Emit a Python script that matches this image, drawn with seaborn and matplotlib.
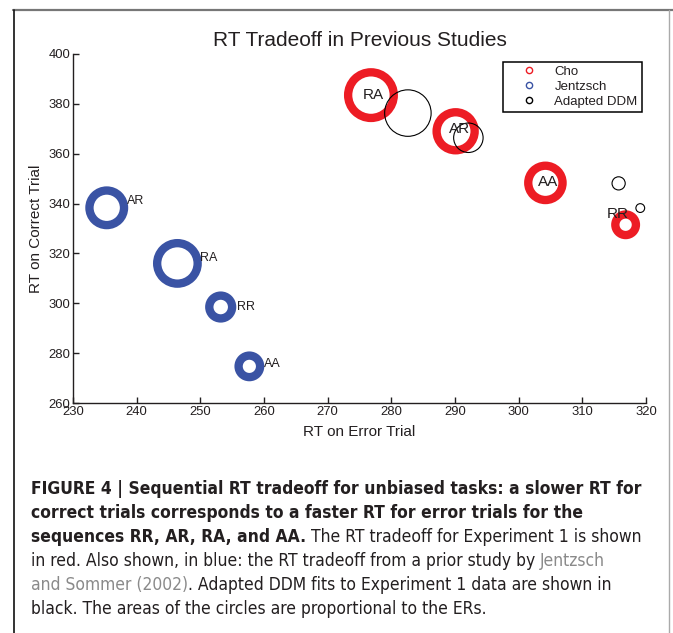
import os
import numpy as np
import pandas as pd
import matplotlib
matplotlib.use("Agg")
import matplotlib.pyplot as plt
from matplotlib.lines import Line2D
from matplotlib import font_manager as fm
import seaborn as sns

# ---------------- data ----------------
conditions = ["RR", "AR", "RA", "AA"]

cho_error_rt = [316.8, 290.1, 276.8, 304.2]
cho_correct_rt = [331.5, 369.0, 383.5, 348.3]
cho_er = [2.2, 7.5, 10.8, 6.1]

jen_error_rt = [253.2, 235.3, 246.4, 257.7]
jen_correct_rt = [298.5, 338.3, 316.0, 274.7]
jen_er = [2.7, 6.2, 8.5, 2.4]

ddm_error_rt = [319.1, 292.1, 282.6, 315.7]
ddm_correct_rt = [338.2, 366.4, 376.3, 348.1]
ddm_er = [0.4, 4.5, 11.2, 0.9]

series_names = ["Cho", "Jentzsch", "Adapted DDM"]
x_ticks = list(range(230, 321, 10))
y_ticks = list(range(260, 401, 20))
title_text = "RT Tradeoff in Previous Studies"
x_label = "RT on Error Trial"
y_label = "RT on Correct Trial"

caption_lines = [
    [("FIGURE 4 | Sequential RT tradeoff for unbiased tasks: a slower RT for", "bold", "main")],
    [("correct trials corresponds to a faster RT for error trials for the", "bold", "main")],
    [("sequences RR, AR, RA, and AA.", "bold", "main"),
     ("The RT tradeoff for Experiment 1 is shown", "normal", "main")],
    [("in red. Also shown, in blue: the RT tradeoff from a prior study by", "normal", "main"),
     ("Jentzsch", "normal", "link")],
    [("and Sommer (2002)", "normal", "link"),
     (". Adapted DDM fits to Experiment 1 data are shown in", "normal", "nospace")],
    [("black. The areas of the circles are proportional to the ERs.", "normal", "main")],
]

# ---------------- style ----------------
W, H = 673, 633
AREA_PER_ER = 100.0            # marker area (pt^2) per percent error
RED = "#ED1C24"
BLUE = "#3A53A4"
INK = "#231F20"
LINK = "#8A8A8A"
cho_label_off = {"RR": (-6, 7.7), "AR": (2.7, 1.5), "RA": (1.8, 0), "AA": (2.0, 0.4)}
jen_label_off = {"RR": (11.5, 0), "AR": (14.4, 4.8), "RA": (16.3, 4.0), "AA": (10.8, 1.4)}

sns.set_theme(style="ticks", rc={
    "xtick.direction": "in", "ytick.direction": "in",
    "axes.edgecolor": INK, "axes.linewidth": 1.0,
    "xtick.color": INK, "ytick.color": INK,
    "text.color": INK, "axes.labelcolor": INK,
})
plt.rcParams["font.family"] = ["Liberation Sans", "DejaVu Sans"]

fig = plt.figure(figsize=(W / 100, H / 100), dpi=100)
fig.patch.set_facecolor("white")

def px_box(x0, y0, x1, y1):
    return [x0 / W, 1 - y1 / H, (x1 - x0) / W, (y1 - y0) / H]

ax = fig.add_axes(px_box(73, 54, 646, 403))

def draw_series(err, cor, er, color, lw, z):
    df = pd.DataFrame({"err": err, "cor": cor, "er": er, "cond": conditions})
    sns.scatterplot(data=df, x="err", y="cor", size="er",
                    sizes={v: v * AREA_PER_ER for v in er},
                    facecolors="none", edgecolor=color, linewidth=lw,
                    legend=False, ax=ax, zorder=z, clip_on=False)
    return df

cho_df = draw_series(cho_error_rt, cho_correct_rt, cho_er, RED, 6.0, 3)
jen_df = draw_series(jen_error_rt, jen_correct_rt, jen_er, BLUE, 6.0, 3)
ddm_df = draw_series(ddm_error_rt, ddm_correct_rt, ddm_er, "black", 0.8, 4)

for _, r in cho_df.iterrows():
    ax.annotate(r["cond"], (r["err"], r["cor"]), xytext=cho_label_off[r["cond"]],
                textcoords="offset points", ha="center", va="center",
                fontsize=11, color=INK, zorder=6)
for _, r in jen_df.iterrows():
    ax.annotate(r["cond"], (r["err"], r["cor"]), xytext=jen_label_off[r["cond"]],
                textcoords="offset points", ha="left", va="center",
                fontsize=9, color=INK, zorder=6)

ax.set_xlim(x_ticks[0], x_ticks[-1])
ax.set_ylim(y_ticks[0], y_ticks[-1])
ax.set_xticks(x_ticks)
ax.set_yticks(y_ticks)
ax.tick_params(axis="both", length=4, width=1.0, labelsize=9.4, pad=2)
sns.despine(ax=ax)
ax.set_xlabel(x_label, fontsize=11, labelpad=5)
ax.set_ylabel(y_label, fontsize=11, labelpad=4)
ax.set_title(title_text, fontsize=15, pad=6, color=INK)

handles = [Line2D([], [], marker="o", ls="none", mfc="none", mec=c, ms=4.5, mew=1.0)
           for c in (RED, BLUE, "black")]
leg = ax.legend(handles, series_names, loc="upper left",
                bbox_to_anchor=(503 / W, 1 - 61.5 / H), bbox_transform=fig.transFigure,
                fontsize=9.5, frameon=True, fancybox=False, framealpha=1,
                edgecolor="black", borderpad=0.3, labelspacing=0.22,
                handlelength=3.3, handletextpad=0.3, borderaxespad=0)
leg.get_frame().set_linewidth(1.1)

# ---------------- frame around figure ----------------
def fline(x0, y0, x1, y1, color, lw):
    fig.add_artist(Line2D([x0 / W, x1 / W], [1 - y0 / H, 1 - y1 / H],
                          transform=fig.transFigure, color=color, lw=lw))

fline(13, 10, 673, 10, "#777777", 1.6)
fline(13.5, 10, 13.5, 633, "#111111", 1.2)
fline(669, 10, 669, 633, "#AAAAAA", 1.0)

# ---------------- caption (condensed font if one is installed) ----------------
def find_font(names):
    by_base = {os.path.basename(f.fname).lower(): f.fname for f in fm.fontManager.ttflist}
    for n in names:
        if n.lower() in by_base:
            return fm.FontProperties(fname=by_base[n.lower()])
    return None

fp_reg = find_font(["LiberationSansNarrow-Regular.ttf", "DejaVuSansCondensed.ttf",
                    "RobotoCondensed-Regular.ttf", "NotoSans-Condensed.ttf"])
fp_bold = find_font(["LiberationSansNarrow-Bold.ttf", "DejaVuSansCondensed-Bold.ttf",
                     "RobotoCondensed-Bold.ttf", "NotoSans-CondensedBold.ttf"])
if fp_reg is None or fp_bold is None:
    fp_reg = fm.FontProperties(family=["Liberation Sans"], weight="normal")
    fp_bold = fm.FontProperties(family=["Liberation Sans"], weight="bold")

renderer = fig.canvas.get_renderer()

def make_fp(weight, size):
    fp = (fp_bold if weight == "bold" else fp_reg).copy()
    fp.set_size(size)
    return fp

probe = fig.text(0, 0, caption_lines[0][0][0], fontproperties=make_fp("bold", 12))
w12 = probe.get_window_extent(renderer).width
probe.remove()
cap_size = min(12 * 609.0 / w12, 13.2)

def text_w(s, weight):
    t = fig.text(0, 0, s, fontproperties=make_fp(weight, cap_size))
    w = t.get_window_extent(renderer).width
    t.remove()
    return w

space_w = text_w("x x", "normal") - text_w("xx", "normal")
colors = {"main": INK, "link": LINK, "nospace": INK}

x_left = 31
base0 = 494
for i, line in enumerate(caption_lines):
    x = x_left
    y = base0 + 24 * i
    for j, (s, weight, kind) in enumerate(line):
        if j > 0 and kind != "nospace":
            x += space_w
        t = fig.text(x / W, 1 - y / H, s, fontproperties=make_fp(weight, cap_size),
                     color=colors[kind], ha="left", va="baseline")
        x = t.get_window_extent(renderer).x1

fig.savefig("out.png", dpi=100, facecolor="white")
